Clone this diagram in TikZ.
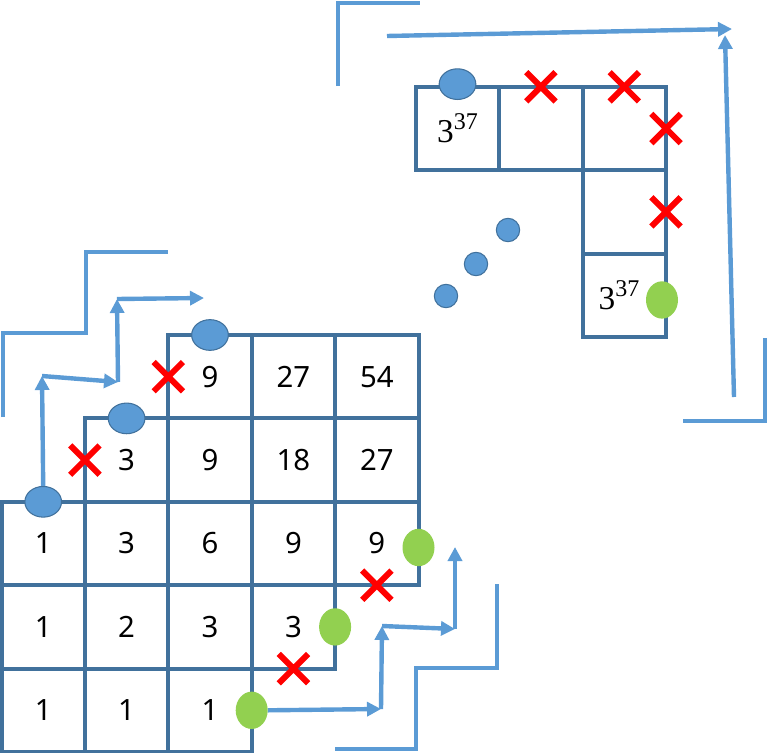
\documentclass[tikz,border=0pt]{standalone}
\usepackage{fontspec}
\setmainfont{Noto Sans}
\newfontfamily\powfont{Liberation Serif}
\usepackage{tikz}
\usetikzlibrary{positioning,arrows.meta,shapes.geometric,shapes.misc}

\definecolor{gridblue}{HTML}{41719C}
\definecolor{pathblue}{HTML}{5B9BD5}
\definecolor{stopgreen}{HTML}{92D050}
\definecolor{crossred}{HTML}{FF0000}

\newcommand\powtext[2]{{\powfont\fontsize{25}{28}\selectfont #1\raisebox{9.5pt}{\fontsize{18}{20}\selectfont #2}}}

\tikzset{
    gridcell/.style={draw=gridblue, line width=3pt, rectangle, minimum size=62.55pt, inner sep=0pt, outer sep=0pt, font=\fontsize{22}{26}\selectfont},
    startdot/.style={draw=gridblue, ellipse, fill=pathblue, line width=0.8pt, minimum width=27.5pt, minimum height=23pt, inner sep=0pt},
    enddot/.style={ellipse, fill=stopgreen, minimum width=24pt, minimum height=28pt, inner sep=0pt},
    gapdot/.style={draw=gridblue, circle, fill=pathblue, line width=0.8pt, minimum size=17.5pt, inner sep=0pt},
    crossmark/.style={cross out, draw=crossred, line width=4.5pt, minimum size=17.5pt, inner sep=0pt},
    stairarrow/.style={draw=pathblue, line width=3.3pt, -{Triangle[length=10.5pt,width=10.5pt]}},
    stairline/.style={draw=pathblue, line width=3.3pt}
}

\begin{document}
\begin{tikzpicture}[x=0.75pt, y=-0.75pt]
    \useasboundingbox (0,0) rectangle (768,753);

    % lower staircase of cells
    \node[gridcell] (n31) at (43.2,543.5) {1};
    \node[gridcell, right=0pt of n31] (n32) {3};
    \node[gridcell, right=0pt of n32] (n33) {6};
    \node[gridcell, right=0pt of n33] (n34) {9};
    \node[gridcell, right=0pt of n34] (n35) {9};
    \node[gridcell, above=0pt of n32] (n22) {3};
    \node[gridcell, right=0pt of n22] (n23) {9};
    \node[gridcell, right=0pt of n23] (n24) {18};
    \node[gridcell, right=0pt of n24] (n25) {27};
    \node[gridcell, above=0pt of n23] (n13) {9};
    \node[gridcell, right=0pt of n13] (n14) {27};
    \node[gridcell, right=0pt of n14] (n15) {54};
    \node[gridcell, below=0pt of n31] (n41) {1};
    \node[gridcell, right=0pt of n41] (n42) {2};
    \node[gridcell, right=0pt of n42] (n43) {3};
    \node[gridcell, right=0pt of n43] (n44) {3};
    \node[gridcell, below=0pt of n41] (n51) {1};
    \node[gridcell, right=0pt of n51] (n52) {1};
    \node[gridcell, right=0pt of n52] (n53) {1};

    % upper corner of cells
    \node[gridcell] (t1) at (457.5,128.5) {\powtext{3}{37}};
    \node[gridcell, right=0pt of t1] (t2) {};
    \node[gridcell, right=0pt of t2] (t3) {};
    \node[gridcell, below=0pt of t3] (t4) {};
    \node[gridcell, below=0pt of t4] (t5) {\hspace*{-8pt}\powtext{3}{37}};

    % start and end marks
    \node[startdot] (s1) at (n31.north) {};
    \node[startdot] (s2) at (n22.north) {};
    \node[startdot] (s3) at (n13.north) {};
    \node[startdot] (s4) at ([yshift=2pt]t1.north) {};
    \node[enddot] (e1) at (n53.east) {};
    \node[enddot] (e2) at (n44.east) {};
    \node[enddot] (e3) at ([yshift=-3pt]n35.east) {};
    \node[enddot] (e4) at ([xshift=-3pt,yshift=-3.5pt]t5.east) {};

    % blocked moves
    \node[crossmark] (x1) at (n22.west) {};
    \node[crossmark] (x2) at (n13.west) {};
    \node[crossmark] (x3) at (n44.south) {};
    \node[crossmark] (x4) at (n35.south) {};
    \node[crossmark] (x5) at (t2.north) {};
    \node[crossmark] (x6) at (t3.north) {};
    \node[crossmark] (x7) at (t3.east) {};
    \node[crossmark] (x8) at (t4.east) {};

    % gap between the two parts
    \node[gapdot] (g1) at (508,230) {};
    \node[gapdot] (g2) at (476,264) {};
    \node[gapdot] (g3) at (446,296) {};

    % path points
    \coordinate (la1) at (42,376);
    \coordinate (la2) at (118,382);
    \coordinate (la3) at (117,299);
    \coordinate (la4) at (204,298);
    \coordinate (ra1) at (381,709);
    \coordinate (ra2) at (382,626);
    \coordinate (ra3) at (455,629);
    \coordinate (ra4) at (455,547);
    \coordinate (ta1) at (387,36);
    \coordinate (ta2) at (732,29);
    \coordinate (ta3) at (734,397);
    \coordinate (ta4) at (725,35);
    \coordinate (l1) at (3,417);
    \coordinate (l2) at (86,333);
    \coordinate (l3) at (168,252);
    \coordinate (b1) at (335,749);
    \coordinate (b2) at (416,668);
    \coordinate (b3) at (497,584);
    \coordinate (u1) at (338,86);
    \coordinate (u2) at (420,3);
    \coordinate (r1) at (683,421);
    \coordinate (r2) at (765,338);

    \draw[stairarrow] (s1.north) -- (la1);
    \draw[stairarrow] (la1) -- (la2);
    \draw[stairarrow] (la2) -- (la3);
    \draw[stairarrow] (la3) -- (la4);
    \draw[stairarrow] (e1.east) -- (ra1);
    \draw[stairarrow] (ra1) -- (ra2);
    \draw[stairarrow] (ra2) -- (ra3);
    \draw[stairarrow] (ra3) -- (ra4);
    \draw[stairarrow] (ta1) -- (ta2);
    \draw[stairarrow] (ta3) -- (ta4);

    \draw[stairline] (l1) |- (l2) |- (l3);
    \draw[stairline] (b1) -| (b2) -| (b3);
    \draw[stairline] (u1) |- (u2);
    \draw[stairline] (r1) -| (r2);
\end{tikzpicture}
\end{document}
